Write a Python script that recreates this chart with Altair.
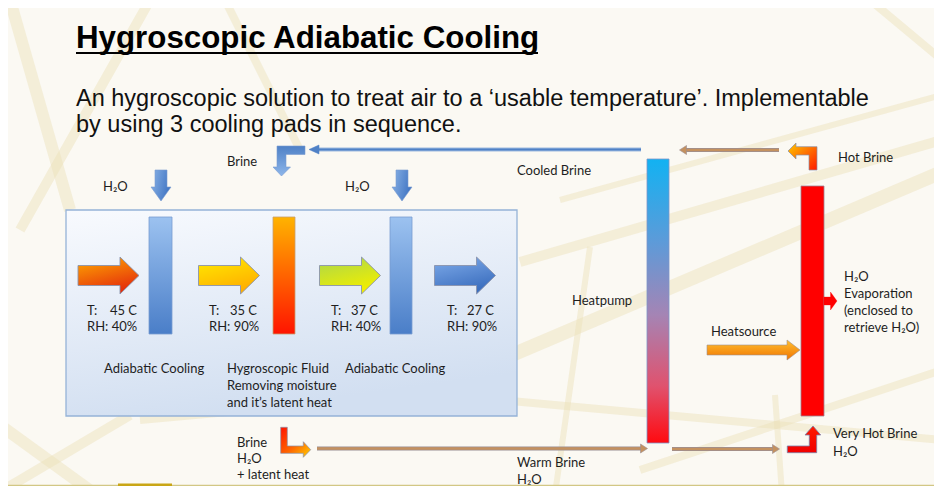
import altair as alt
import pandas as pd

# ---------------- canvas (diagram units = page pixels) ----------------
W, H = 926, 478
OX, OY = 8, 8
XS = alt.Scale(domain=[OX, OX + W], nice=False, zero=False)
YS = alt.Scale(domain=[OY, OY + H], nice=False, zero=False, reverse=True)
FONT = "Lato"
HEAD_FONT = "Liberation Sans"
INK = "#1e1e1e"

# ---------------- data ----------------
title_text = ["Hygroscopic Adiabatic Cooling"]
subtitle_lines = ["An hygroscopic solution to treat air to a \u2018usable temperature\u2019. Implementable",
                  "by using 3 cooling pads in sequence."]

# air states between the pads
air_temp = ["45 C", "35 C", "37 C", "27 C"]
air_rh = ["RH: 40%", "RH: 90%", "RH: 40%", "RH: 90%"]
air_left = [87, 209, 331, 447]
air_right = [137, 257, 378, 494]
air_arrow_cx = [108.5, 229, 350, 465]
air_arrow_cy = [275.5, 275.5, 275.5, 275.5]
air_arrow_colors = [
    [(0, "#ffab00"), (1, "#e5310c")],
    [(0, "#ffec00"), (1, "#ffaf00")],
    [(0, "#a9d64e"), (1, "#f0ee00")],
    [(0, "#80acea"), (1, "#3c6fbf")],
]

# pads: (x0, x1, y0, y1)
pad_x0 = [149, 273, 390]
pad_x1 = [172, 295, 412]
pad_y0 = [217, 217, 217]
pad_y1 = [334, 334, 334]
pad_kind = ["water", "brine", "water"]

stage_labels = ["Adiabatic Cooling", "Hygroscopic Fluid", "Removing moisture",
                "and it\u2019s latent heat", "Adiabatic Cooling"]
stage_x = [104, 227, 227, 227, 345]
stage_y = [373, 373, 390, 407, 373]

water_in_cx = [161, 402]
water_in_cy = [185.5, 185.5]

other_labels = ["Brine", "H\u2082O", "H\u2082O", "Cooled Brine", "Heatpump", "Hot Brine",
                "H\u2082O", "Evaporation", "(enclosed to", "retrieve H\u2082O)", "Heatsource",
                "Very Hot Brine", "H\u2082O", "Warm Brine", "H\u2082O", "Brine", "H\u2082O",
                "+ latent heat"]
other_x = [227, 103, 345, 517, 572, 838, 844, 844, 844, 844, 711, 833, 833, 517, 517, 237, 237, 237]
other_y = [166, 191, 191, 175, 305, 161.5, 280.5, 297.5, 314.5, 331.5, 335.5, 438, 455.5,
           467, 484, 446.5, 462.5, 479]

# brine loop pipes: (x0, x1, y)
blue_pipe = [(316, 641, 149.5)]
brown_pipes = [(686, 779, 150), (317, 641, 448.5), (672, 773, 449)]
pipe_heads_left = [(683, 150)]
pipe_heads_right = [(644, 448.5), (776, 449)]

# beams of the background photograph: (x0, y0, x1, y1, width)
beams = [
    (10, 0, 70, 210, 12), (150, 0, 20, 230, 10), (225, 0, 300, 150, 8),
    (0, 425, 95, 494, 12), (0, 492, 130, 415, 10), (140, 420, 250, 410, 8),
    (500, 360, 942, 172, 14), (520, 262, 942, 140, 10), (590, 247, 555, 494, 6),
    (500, 400, 942, 440, 8), (640, 470, 942, 370, 8), (775, 395, 782, 494, 6),
    (870, 0, 942, 60, 8), (560, 200, 942, 95, 6),
]

# ---------------- helpers ----------------
def X(f="x"):
    return alt.X(f, type="quantitative", scale=XS, axis=None)

def Y(f="y"):
    return alt.Y(f, type="quantitative", scale=YS, axis=None)

def grad(stops, x1=0, y1=0, x2=0, y2=1):
    return alt.Gradient(gradient="linear",
                        stops=[alt.GradientStop(offset=o, color=c) for o, c in stops],
                        x1=x1, y1=y1, x2=x2, y2=y2)

def symbols(xs, ys, path, fill, stroke="#8a8fa8", sw=0.8):
    df = pd.DataFrame({"x": xs, "y": ys})
    return alt.Chart(df).mark_point(shape=path, size=4, filled=True, fill=fill, opacity=1,
                                    stroke=stroke, strokeWidth=sw).encode(x=X(), y=Y())

def rects(x0, x1, y0, y1, fill, stroke, sw=1.0):
    df = pd.DataFrame({"x": x0, "x2": x1, "y": y0, "y2": y1})
    return alt.Chart(df).mark_rect(fill=fill, stroke=stroke, strokeWidth=sw, opacity=1).encode(
        x=X(), x2="x2", y=Y(), y2="y2")

def texts(labels, xs, ys, size=13, align="left", font=FONT, weight="normal", color=INK):
    df = pd.DataFrame({"t": labels, "x": xs, "y": ys})
    return alt.Chart(df).mark_text(align=align, baseline="alphabetic", font=font, fontSize=size,
                                   fontWeight=weight, color=color).encode(x=X(), y=Y(), text="t:N")

def hrules(segs, color, width):
    df = pd.DataFrame({"x": [s[0] for s in segs], "x2": [s[1] for s in segs], "y": [s[2] for s in segs]})
    return alt.Chart(df).mark_rule(color=color, strokeWidth=width).encode(x=X(), x2="x2", y=Y())

# ---------------- shapes (pixel units, size=4 -> scale 1) ----------------
AIR_ARROW = "M-30.5,-10L11.5,-10L11.5,-18.5L30.5,0L11.5,18.5L11.5,10L-30.5,10Z"
DOWN_ARROW = "M-6,-15.5L6,-15.5L6,1.5L10,1.5L0,15.5L-10,1.5L-6,1.5Z"
BRINE_IN = "M15.5,-15L15.5,-6.5L-3.5,-6.5L-3.5,6L1,6L-8,15L-16.5,6L-12.5,6L-12.5,-15Z"
HOT_OUT = "M14.5,-9.8L14.5,13.5L6.5,13.5L6.5,-1.5L-6.5,-1.5L-6.5,2.5L-14.5,-5.5L-6.5,-13.5L-6.5,-9.8Z"
BRINE_OUT = "M-15.3,-14.7L-8.7,-14.7L-8.7,4L7.3,4L7.3,-0.3L14.7,7.7L7.3,15.3L7.3,11.3L-15.3,11.3Z"
VERY_HOT = "M-16.7,6.7L5.3,6.7L5.3,-4.3L1,-4.3L9,-13.3L16.7,-4.3L12.7,-4.3L12.7,13.4L-16.7,13.4Z"
STEAM = "M-6.5,-4L0,-4L0,-9L6.5,0L0,9L0,4L-6.5,4Z"
HEAT_ARROW = "M-46.5,-5L33.5,-5L33.5,-10L46.5,0L33.5,10L33.5,5L-46.5,5Z"
HEAD_R = "M-3.5,-4.5L3.5,0L-3.5,4.5Z"
HEAD_L = "M3.5,-4.5L-3.5,0L3.5,4.5Z"
HEAD_L_BLUE = "M5,-4.5L-5,0L5,4.5Z"

layers = []

# background beams
bdf = pd.DataFrame({"x": [b[0] for b in beams], "y": [b[1] for b in beams],
                    "x2": [b[2] for b in beams], "y2": [b[3] for b in beams],
                    "w": [b[4] for b in beams]})
layers.append(alt.Chart(bdf).mark_rule(color="#eadfb9", opacity=0.45, strokeCap="butt").encode(
    x=X(), y=Y(), x2="x2", y2="y2",
    strokeWidth=alt.StrokeWidth("w:Q", scale=None, legend=None)))

# title and subtitle
layers.append(texts(title_text, [76], [48], size=31.3, font=HEAD_FONT, weight="bold", color="#000"))
layers.append(hrules([(76, 538, 53)], "#000", 2))
layers.append(texts(subtitle_lines, [76, 76], [106, 132], size=23.5, font=HEAD_FONT, color="#111"))

# process box
layers.append(rects([66], [517], [210], [416],
                    grad([(0, "#f8fafe"), (1, "#d2dff1")], 0, 0, 0.3, 1), "#95b3d7", 1.3))

# pads
for kind in ["water", "brine"]:
    idx = [i for i, k in enumerate(pad_kind) if k == kind]
    fill = grad([(0, "#9cc2f0"), (1, "#4a7ec8")]) if kind == "water" else grad([(0, "#ffb300"), (1, "#ff1400")])
    stroke = "#7a9cd0" if kind == "water" else "#c8a070"
    layers.append(rects([pad_x0[i] for i in idx], [pad_x1[i] for i in idx],
                        [pad_y0[i] for i in idx], [pad_y1[i] for i in idx], fill, stroke, 0.8))

# air arrows
for i in range(4):
    layers.append(symbols([air_arrow_cx[i]], [air_arrow_cy[i]], AIR_ARROW,
                          grad(air_arrow_colors[i], 0, 0, 0.4, 1), "#8a93ad", 0.9))

# water in
layers.append(symbols(water_in_cx, water_in_cy, DOWN_ARROW,
                      grad([(0, "#8ab3e6"), (1, "#4377c4")], 0, 0, 1, 0.3), "#7a9cd0", 0.6))

# pipes
layers.append(hrules(blue_pipe, "#9fbbe0", 4))
layers.append(hrules(blue_pipe, "#4f81c6", 2.2))
layers.append(symbols([314], [149.5], HEAD_L_BLUE, "#4f81c6", "#4f81c6", 0.5))
layers.append(hrules(brown_pipes, "#9a8f94", 4.2))
layers.append(hrules(brown_pipes, "#c4915f", 2.6))
layers.append(symbols([p[0] for p in pipe_heads_right], [p[1] for p in pipe_heads_right], HEAD_R, "#c4915f", "#9a8f94", 0.6))
layers.append(symbols([p[0] for p in pipe_heads_left], [p[1] for p in pipe_heads_left], HEAD_L, "#c4915f", "#9a8f94", 0.6))

# brine connectors
layers.append(symbols([289.5], [161], BRINE_IN, grad([(0, "#4f81c6"), (1, "#8db6ea")]), "#7a9cd0", 0.6))
layers.append(symbols([802.5], [156.5], HOT_OUT, grad([(0, "#ffc800"), (1, "#ff1a00")], 0, 0, 1, 1), "#8a8fa8", 0.7))
layers.append(symbols([296], [442], BRINE_OUT, grad([(0, "#ff1200"), (0.55, "#ff6a00"), (1, "#ffd000")], 0, 0, 1, 1), "#8a8fa8", 0.7))
layers.append(symbols([804], [439.3], VERY_HOT, grad([(0, "#ff1a00"), (1, "#f00000")]), "#7a7fa8", 0.8))

# heat pump and evaporator
layers.append(rects([647], [669], [159], [443],
                    grad([(0, "#12b2f2"), (0.3, "#5f9ad8"), (0.55, "#a584b4"), (0.8, "#e0526e"), (1, "#ff0a10")]),
                    "#7f96c8", 0.8))
layers.append(rects([801], [824], [186], [416], "#ff0000", "#a08090", 0.8))
layers.append(symbols([830.5], [301], STEAM, "#ff0000", "#ff0000", 0.3))
layers.append(symbols([753.5], [350], HEAT_ARROW, grad([(0, "#ffc030"), (1, "#f07400")]), "#a09090", 0.6))

# labels
layers.append(texts(["T:"] * 4, air_left, [315] * 4))
layers.append(texts(air_rh, air_left, [331] * 4))
layers.append(texts(air_temp, air_right, [315] * 4, align="right"))
layers.append(texts(stage_labels, stage_x, stage_y))
layers.append(texts(other_labels, other_x, other_y))

# slide footer
layers.append(hrules([(OX, OX + W, 485.5)], "#d2c784", 1.5))
layers.append(hrules([(118, 172, 485)], "#c9a616", 3))

chart = alt.layer(*layers).properties(
    width=W, height=H, padding=0, background="#fbf9f3",
    autosize=alt.AutoSizeParams(type="none"),
).configure_view(strokeWidth=0)

chart.save("out.html", embed_options={"renderer": "svg", "actions": False})
